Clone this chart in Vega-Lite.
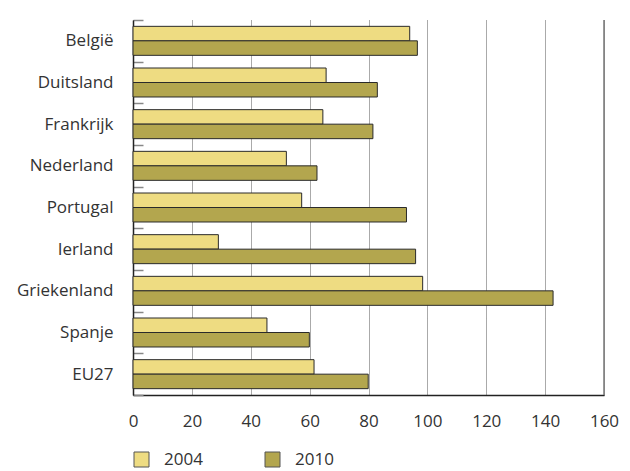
{
  "$schema": "https://vega.github.io/schema/vega-lite/v6.json",
  "width": 471,
  "height": 375,
  "autosize": "none",
  "padding": {"left": 133, "top": 20, "right": 26, "bottom": 76},
  "background": "white",
  "config": {
    "font": "Open Sans",
    "view": {"stroke": null},
    "axis": {"labelFont": "Open Sans", "labelColor": "#333333", "labelFontSize": 17}
  },
  "layer": [
    {
      "data": {
        "values": [
          {"land": "België", "jaar": "2004", "waarde": 94.0},
          {"land": "België", "jaar": "2010", "waarde": 96.6},
          {"land": "Duitsland", "jaar": "2004", "waarde": 65.6},
          {"land": "Duitsland", "jaar": "2010", "waarde": 83.0},
          {"land": "Frankrijk", "jaar": "2004", "waarde": 64.5},
          {"land": "Frankrijk", "jaar": "2010", "waarde": 81.5},
          {"land": "Nederland", "jaar": "2004", "waarde": 52.1},
          {"land": "Nederland", "jaar": "2010", "waarde": 62.5},
          {"land": "Portugal", "jaar": "2004", "waarde": 57.3},
          {"land": "Portugal", "jaar": "2010", "waarde": 92.9},
          {"land": "Ierland", "jaar": "2004", "waarde": 29.0},
          {"land": "Ierland", "jaar": "2010", "waarde": 96.0},
          {"land": "Griekenland", "jaar": "2004", "waarde": 98.4},
          {"land": "Griekenland", "jaar": "2010", "waarde": 142.7},
          {"land": "Spanje", "jaar": "2004", "waarde": 45.5},
          {"land": "Spanje", "jaar": "2010", "waarde": 59.9},
          {"land": "EU27", "jaar": "2004", "waarde": 61.5},
          {"land": "EU27", "jaar": "2010", "waarde": 79.9}
        ]
      },
      "mark": {"type": "bar", "stroke": "#2a2a2a", "strokeWidth": 1},
      "encoding": {
        "y": {
          "field": "land",
          "type": "nominal",
          "sort": null,
          "scale": {"paddingInner": 0, "paddingOuter": 0},
          "axis": {
            "title": null,
            "domainColor": "#222222",
            "domainWidth": 1.5,
            "tickColor": "#888888",
            "tickSize": -10,
            "tickWidth": 1.5,
            "tickBand": "extent",
            "labelPadding": 30,
            "grid": false
          }
        },
        "yOffset": {
          "field": "jaar",
          "type": "nominal",
          "scale": {"paddingInner": 0, "paddingOuter": 0.437}
        },
        "x": {
          "field": "waarde",
          "type": "quantitative",
          "scale": {"domain": [0, 160], "nice": false},
          "axis": {
            "title": null,
            "values": [0, 20, 40, 60, 80, 100, 120, 140, 160],
            "ticks": false,
            "labelFlush": false,
            "domainColor": "#222222",
            "domainWidth": 1.5,
            "labelPadding": 18,
            "grid": true,
            "gridColor": "#555555",
            "gridDash": [1, 1],
            "gridWidth": 1
          }
        },
        "fill": {
          "field": "jaar",
          "type": "nominal",
          "scale": {"domain": ["2004", "2010"], "range": ["#EEDC82", "#B3A64E"]},
          "legend": {
            "title": null,
            "orient": "none",
            "legendX": 0,
            "legendY": 431,
            "direction": "horizontal",
            "columns": 2,
            "columnPadding": 60,
            "symbolType": "square",
            "symbolSize": 225,
            "symbolStrokeColor": "#555555",
            "symbolStrokeWidth": 1,
            "labelFont": "Open Sans",
            "labelFontSize": 17,
            "labelColor": "#333333",
            "labelOffset": 14
          }
        }
      }
    },
    {
      "data": {"values": [{"pos": 160}]},
      "mark": {"type": "rule", "color": "#777777", "strokeWidth": 1.5},
      "encoding": {
        "x": {"field": "pos", "type": "quantitative"}
      }
    }
  ]
}
